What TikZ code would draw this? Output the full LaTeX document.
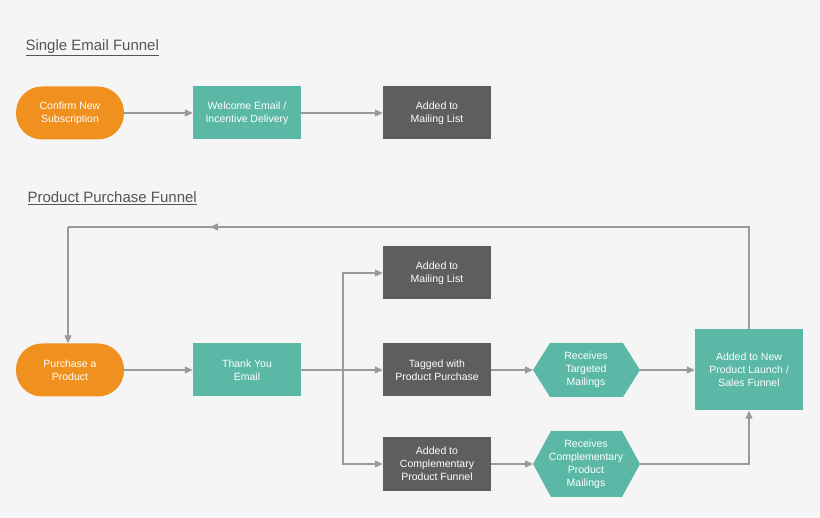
\documentclass[tikz,border=0pt]{standalone}
\usepackage{fontspec}
\setmainfont{Liberation Sans}
\usetikzlibrary{shapes.geometric,arrows.meta}
\definecolor{org}{HTML}{F0901E}
\definecolor{teal}{HTML}{5BB8A6}
\definecolor{dk}{HTML}{5E5E5E}
\definecolor{ln}{HTML}{9A9A9A}
\definecolor{bg}{HTML}{F5F5F5}
\definecolor{tt}{HTML}{555555}
\begin{document}
\begin{tikzpicture}[x=1pt,y=-1pt,
 base/.style={minimum width=108pt,minimum height=53pt,inner sep=1pt,align=center,text=white,font=\fontsize{10.5}{13}\selectfont},
 pill/.style={base,fill=org,rounded corners=26pt},
 tbox/.style={base,fill=teal},
 dbox/.style={base,fill=dk},
 hex/.style={base,fill=teal,regular polygon,regular polygon sides=6,shape border rotate=0,minimum width=0pt,minimum height=0pt},
 ttl/.style={anchor=west,text=tt,font=\fontsize{15}{18}\selectfont},
 con/.style={draw=ln,line width=1.2pt,-{Triangle[length=8pt,width=7pt]}},
 lin/.style={draw=ln,line width=1.2pt}]
\fill[bg] (0,0) rectangle (820,518);
\useasboundingbox (0,0) rectangle (820,518);
\node[ttl] (t1) at (22,48) {\underline{Single Email Funnel}};
\node[ttl] (t2) at (24,198) {\underline{Product Purchase Funnel}};
\node[pill] (cn) at (70,113) {Confirm New\\Subscription};
\node[tbox] (we) at (247,113) {Welcome Email /\\Incentive Delivery};
\node[dbox] (am1) at (437,113) {Added to\\Mailing List};
\node[pill] (pp) at (70,370) {Purchase a\\Product};
\node[tbox] (ty) at (247,370) {Thank You\\Email};
\node[dbox] (am2) at (437,273) {Added to\\Mailing List};
\node[dbox] (tg) at (437,370) {Tagged with\\Product Purchase};
\node[dbox,minimum height=54pt] (cf) at (437,464) {Added to\\Complementary\\Product Funnel};
\path[fill=teal] (533,370) -- (550,343) -- (623,343) -- (640,370) -- (623,397) -- (550,397) -- cycle;
\node[base,minimum width=0pt,minimum height=0pt] (h1) at (586,370) {Receives\\Targeted\\Mailings};
\path[fill=teal] (533,464) -- (551,431) -- (622,431) -- (640,464) -- (622,497) -- (551,497) -- cycle;
\node[base,minimum width=0pt,minimum height=0pt] (h2) at (586,464) {Receives\\Complementary\\Product\\Mailings};
\node[tbox,minimum height=81pt] (an) at (749,370) {Added to New\\Product Launch /\\Sales Funnel};
\coordinate (h1w) at (533,370); \coordinate (h1e) at (640,370);
\coordinate (h2w) at (533,464); \coordinate (h2e) at (640,464);
\draw[con] (cn) -- (we);
\draw[con] (we) -- (am1);
\draw[con] (pp) -- (ty);
\coordinate (br) at (343,370);
\draw[lin] (ty) -- (br);
\draw[con] (br) -- (tg);
\draw[con] (br) |- (am2);
\draw[con] (br) |- (cf);
\draw[con] (tg) -- (h1w);
\draw[con] (cf) -- (h2w);
\draw[con] (h1e) -- (an);
\draw[con] (h2e) -| (an.south);
\coordinate (lt) at (68,227); \coordinate (rt) at (749,227); \coordinate (mid) at (210,227);
\draw[lin] (an.north) -- (rt) -- (lt);
\draw[con] (rt) -- (mid);
\draw[con] (lt) -- (pp.north -| lt);
\end{tikzpicture}
\end{document}
